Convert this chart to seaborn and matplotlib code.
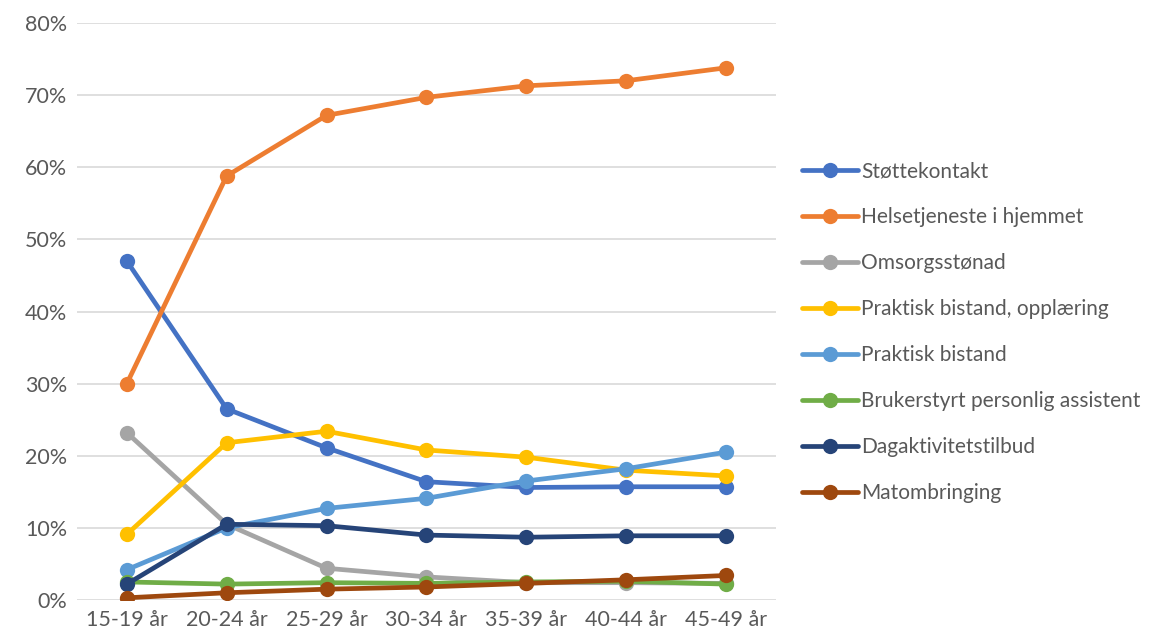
import pandas as pd
import matplotlib.pyplot as plt
import seaborn as sns
from matplotlib.ticker import PercentFormatter

ages = ["15-19 år", "20-24 år", "25-29 år", "30-34 år", "35-39 år", "40-44 år", "45-49 år"]

stottekontakt = [47.0, 26.5, 21.1, 16.4, 15.6, 15.7, 15.7]
helsetjeneste = [30.0, 58.8, 67.2, 69.7, 71.3, 72.0, 73.8]
omsorgsstonad = [23.2, 10.5, 4.4, 3.2, 2.4, 2.4, 2.3]
praktisk_opplaering = [9.1, 21.8, 23.4, 20.8, 19.8, 18.0, 17.2]
praktisk_bistand = [4.2, 10.0, 12.7, 14.1, 16.5, 18.2, 20.5]
brukerstyrt = [2.5, 2.2, 2.4, 2.3, 2.5, 2.6, 2.2]
dagaktivitet = [2.2, 10.5, 10.3, 9.0, 8.7, 8.9, 8.9]
matombringing = [0.3, 1.0, 1.5, 1.8, 2.3, 2.8, 3.4]

series = {
    "Støttekontakt": stottekontakt,
    "Helsetjeneste i hjemmet": helsetjeneste,
    "Omsorgsstønad": omsorgsstonad,
    "Praktisk bistand, opplæring": praktisk_opplaering,
    "Praktisk bistand": praktisk_bistand,
    "Brukerstyrt personlig assistent": brukerstyrt,
    "Dagaktivitetstilbud": dagaktivitet,
    "Matombringing": matombringing,
}
colors = ["#4472C4", "#ED7D31", "#A5A5A5", "#FFC000", "#5B9BD5", "#70AD47", "#264478", "#9E480E"]

rows = []
for name, vals in series.items():
    for age, v in zip(ages, vals):
        rows.append({"Alder": age, "Andel": v / 100, "Tjeneste": name})
df = pd.DataFrame(rows)

sns.set_style("white")
plt.rcParams["font.family"] = ["Lato", "DejaVu Sans"]

fig = plt.figure(figsize=(11.65, 6.41), dpi=100)
ax = fig.add_axes([0.066, 0.064, 0.6, 0.9])

sns.lineplot(data=df, x="Alder", y="Andel", hue="Tjeneste", palette=colors,
             marker="o", markersize=11, markeredgewidth=0, linewidth=3.4,
             sort=False, ax=ax)

ax.set_xlim(-0.5, len(ages) - 0.5)
ax.set_ylim(0, 0.8)
ax.set_yticks([i / 10 for i in range(9)])
ax.yaxis.set_major_formatter(PercentFormatter(1.0, decimals=0))
ax.grid(axis="y", color="#D9D9D9", linewidth=1.2)
ax.set_axisbelow(True)
for s in ax.spines.values():
    s.set_visible(False)
ax.tick_params(length=0, labelsize=15.5, labelcolor="#595959", pad=7)
ax.set_xlabel("")
ax.set_ylabel("")

handles, labels = ax.get_legend_handles_labels()
ax.legend(handles, labels, loc="center left", bbox_to_anchor=(1.01, 0.464),
          frameon=False, fontsize=15, labelcolor="#595959",
          handlelength=2.7, handletextpad=0.15, labelspacing=1.25)

fig.savefig("out.png", dpi=100)
